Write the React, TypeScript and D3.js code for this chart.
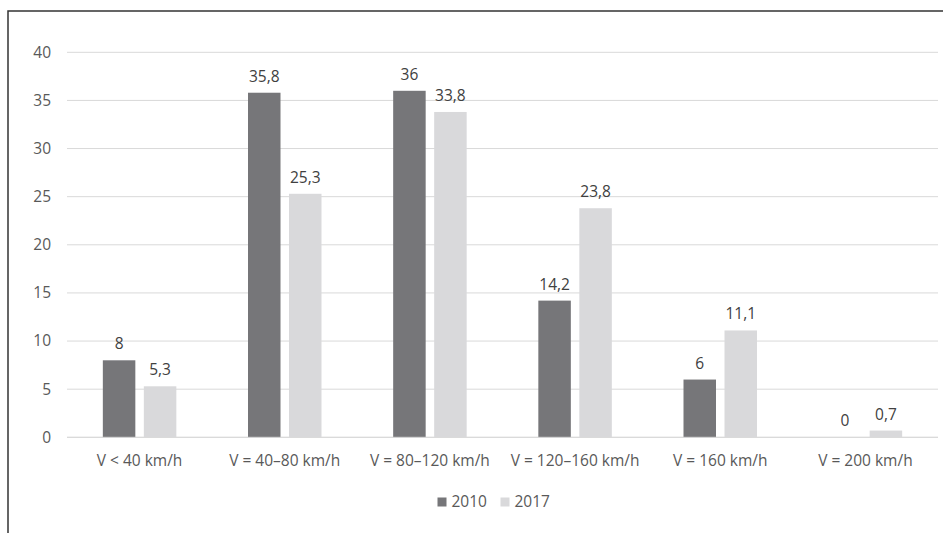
import React from "react";
import * as d3 from "d3";

const categories = ["V < 40 km/h", "V = 40–80 km/h", "V = 80–120 km/h", "V = 120–160 km/h", "V = 160 km/h", "V = 200 km/h"];
const series2010 = [8, 35.8, 36, 14.2, 6, 0];
const series2017 = [5.3, 25.3, 33.8, 23.8, 11.1, 0.7];
const seriesNames = ["2010", "2017"];
const yTicks = [0, 5, 10, 15, 20, 25, 30, 35, 40];

const colors = ["#767679", "#d9d9db"];
const textColor = "#595959";
const font = "'Open Sans', sans-serif";
const fs = 15.5;

export default function App() {
  const W = 943, H = 533;
  const left = 67, right = 938, top = 52.3, bottom = 437.3;
  const x = d3.scaleBand<string>().domain(categories).range([left, right]).paddingInner(0).paddingOuter(0);
  const y = d3.scaleLinear().domain([0, 40]).range([bottom, top]);
  const barW = 32.5, gap = 8.5;
  const fmt = (v: number) => String(v).replace(".", ",");
  const data = [series2010, series2017];

  return (
    <svg width={W} height={H} style={{ position: "absolute", left: 0, top: 0 }}>
      <rect x={0} y={0} width={W} height={H} fill="#fff" />
      <rect x={8} y={11} width={W + 20} height={H + 20} fill="none" stroke="#333" strokeWidth={1.5} />
      {yTicks.map(t => (
        <g key={t}>
          <line x1={left} x2={right} y1={y(t)} y2={y(t)} stroke="#d9d9d9" strokeWidth={1} />
          <text x={51} y={y(t)} dy="0.35em" textAnchor="end" fontFamily={font} fontSize={fs} fill={textColor}>{t}</text>
        </g>
      ))}
      {categories.map((c, i) => {
        const cx = (x(c) as number) + x.bandwidth() / 2;
        return (
          <g key={c}>
            {data.map((s, j) => {
              const bx = cx - gap / 2 - barW + j * (barW + gap);
              const v = s[i];
              return (
                <g key={j}>
                  {v > 0 && <rect x={bx} y={y(v)} width={barW} height={bottom - y(v)} fill={colors[j]} />}
                  <text x={bx + barW / 2} y={y(v) - 11} textAnchor="middle" fontFamily={font} fontSize={fs} fill="#404040">{fmt(v)}</text>
                </g>
              );
            })}
            <text x={cx} y={466} textAnchor="middle" fontFamily={font} fontSize={fs} fill={textColor}>{c}</text>
          </g>
        );
      })}
      <line x1={left} x2={right} y1={bottom} y2={bottom} stroke="#d9d9d9" strokeWidth={1} />
      {seriesNames.map((n, j) => {
        const lx = 437.5 + j * 63;
        return (
          <g key={n}>
            <rect x={lx} y={497.5} width={9} height={9} fill={colors[j]} />
            <text x={lx + 14} y={506.5} fontFamily={font} fontSize={fs} fill={textColor}>{n}</text>
          </g>
        );
      })}
    </svg>
  );
}
